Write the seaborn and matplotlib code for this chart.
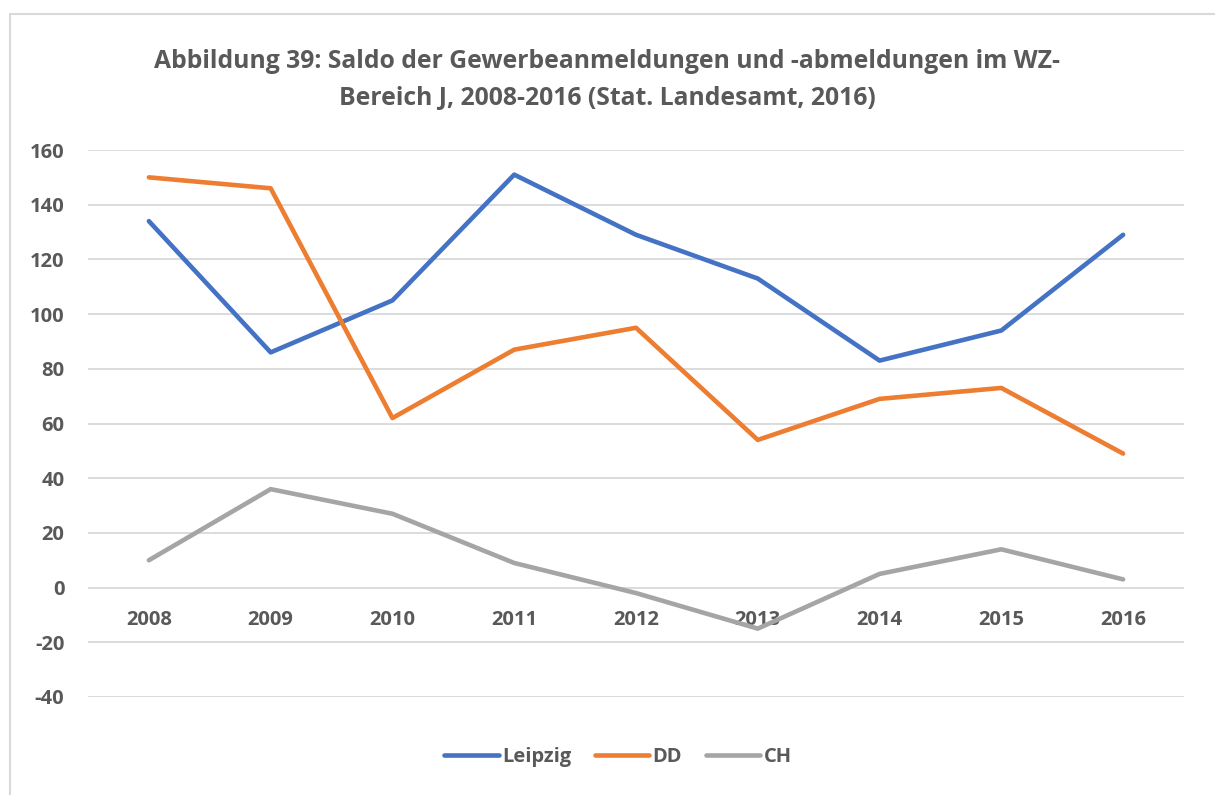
import matplotlib
matplotlib.use("Agg")
import matplotlib.pyplot as plt
from matplotlib.patches import Rectangle
import seaborn as sns
import pandas as pd

years = ["2008", "2009", "2010", "2011", "2012", "2013", "2014", "2015", "2016"]
leipzig = [134, 86, 105, 151, 129, 113, 83, 94, 129]
dd = [150, 146, 62, 87, 95, 54, 69, 73, 49]
ch = [10, 36, 27, 9, -2, -15, 5, 14, 3]
series_names = ["Leipzig", "DD", "CH"]
colors = ["#4472C4", "#ED7D31", "#A5A5A5"]
y_ticks = [-40, -20, 0, 20, 40, 60, 80, 100, 120, 140, 160]
title = ("Abbildung 39: Saldo der Gewerbeanmeldungen und -abmeldungen im WZ-\n"
         "Bereich J, 2008-2016 (Stat. Landesamt, 2016)")

rows = []
for name, vals in zip(series_names, [leipzig, dd, ch]):
    for i, (yr, v) in enumerate(zip(years, vals)):
        rows.append({"idx": i, "Jahr": yr, "Wert": v, "Reihe": name})
df = pd.DataFrame(rows)

sns.set_theme(style="white")
plt.rcParams["font.family"] = ["Open Sans", "DejaVu Sans"]
text_color = "#595959"
tick_size = 14.5

fig = plt.figure(figsize=(12.15, 7.95), dpi=100)
ax = fig.add_axes([88 / 1215, 1 - 697 / 795, (1184 - 88) / 1215, (697 - 150) / 795])

# chart frame
fig.patches.append(Rectangle((10 / 1215, -0.05), 1.1, 1 - 14 / 795 + 0.05,
                             transform=fig.transFigure, fill=False,
                             edgecolor="#D9D9D9", linewidth=1.5, zorder=0))

sns.lineplot(data=df, x="idx", y="Wert", hue="Reihe", hue_order=series_names,
             palette=colors, linewidth=3.3, ax=ax, legend=True,
             solid_capstyle="round", solid_joinstyle="round", sort=False)

# category labels sit on the zero line
ax.spines["bottom"].set_position(("data", 0))
for s in ["bottom", "top", "left", "right"]:
    ax.spines[s].set_color("none")

ax.set_xlim(-0.5, len(years) - 0.5)
ax.set_ylim(-40, 160)
ax.set_yticks(y_ticks)
ax.set_yticklabels([str(t) for t in y_ticks], fontsize=tick_size, fontweight="bold",
                   color=text_color)
ax.set_xticks(range(len(years)))
ax.set_xticklabels(years, fontsize=tick_size, fontweight="bold", color=text_color)
ax.tick_params(axis="both", length=0)
ax.tick_params(axis="x", pad=16)
ax.tick_params(axis="y", pad=17)
ax.set_xlabel("")
ax.set_ylabel("")

for t in y_ticks:
    ax.axhline(t, color="#D9D9D9", linewidth=1.3, zorder=0)

fig.text(0.5, 1 - 80 / 795, title, ha="center", va="center", fontsize=17.8,
         fontweight="bold", color=text_color, linespacing=1.62)

handles, labels = ax.get_legend_handles_labels()
leg = ax.legend(handles, labels, loc="center",
                bbox_to_anchor=(618 / 1215, 1 - 757 / 795), bbox_transform=fig.transFigure,
                ncol=3, frameon=False, prop={"weight": "bold", "size": tick_size},
                handlelength=2.7, handletextpad=0.15, columnspacing=1.2)
for txt in leg.get_texts():
    txt.set_color(text_color)
for line in leg.get_lines():
    line.set_linewidth(3.3)
    line.set_solid_capstyle("round")

fig.savefig("out.png", dpi=100, facecolor="white")
